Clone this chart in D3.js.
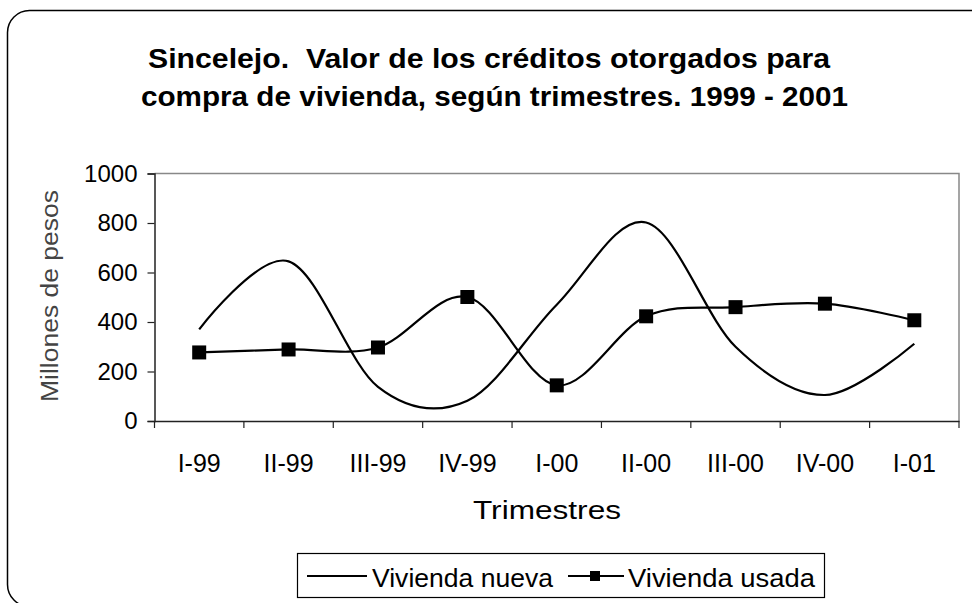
<!DOCTYPE html>
<html>
<head>
<meta charset="utf-8">
<script src="https://cdn.jsdelivr.net/npm/d3@7"></script>
<style>
  body { margin: 0; background: #fff; }
  text { font-family: "Liberation Sans", Arial, sans-serif; fill: #000; white-space: pre; }
</style>
</head>
<body>
<script>
  const trimestres = ['I-99', 'II-99', 'III-99', 'IV-99', 'I-00', 'II-00', 'III-00', 'IV-00', 'I-01'];
  const viviendaNueva = [370, 645, 138, 82, 470, 802, 300, 105, 312];
  const viviendaUsada = [277, 289, 297, 501, 144, 423, 460, 474, 407];
  const yTicks = [0, 200, 400, 600, 800, 1000];

  const width = 972;
  const height = 603;

  const svg = d3.select('body')
          .append('svg')
          .attr('width', width)
          .attr('height', height);

  // marco redondeado del gráfico
  svg.append('rect')
          .attr('x', 7.5)
          .attr('y', 10.5)
          .attr('width', 990)
          .attr('height', 596)
          .attr('rx', 22)
          .attr('fill', '#fff')
          .attr('stroke', '#000')
          .attr('stroke-width', 1.5);

  const plot = { left: 154.5, right: 959, top: 173.5, bottom: 421 };

  const x = d3.scaleBand()
          .domain(trimestres)
          .range([plot.left, plot.right]);

  const y = d3.scaleLinear()
          .domain([0, 1000])
          .range([plot.bottom, plot.top]);

  const cx = d => x(d) + x.bandwidth() / 2;

  // borde superior y derecho del área de trazado
  svg.append('path')
          .attr('d', `M${plot.left},${plot.top}H${plot.right}V${plot.bottom}`)
          .attr('fill', 'none')
          .attr('stroke', '#888')
          .attr('stroke-width', 1.5);

  // eje Y
  const yAxis = svg.append('g')
          .attr('transform', `translate(${plot.left},0)`)
          .call(d3.axisLeft(y).tickValues(yTicks).tickSize(7).tickPadding(10).tickFormat(d3.format('d')));
  yAxis.select('.domain').attr('stroke', '#222').attr('stroke-width', 1.5);
  yAxis.selectAll('.tick line').attr('stroke', '#222').attr('stroke-width', 1.2);
  yAxis.selectAll('.tick text')
          .style('font-family', '"Liberation Sans", Arial, sans-serif')
          .style('font-size', '24px')
          .attr('fill', '#000');

  // eje X con marcas en los límites de cada categoría
  const xAxis = svg.append('g')
          .attr('transform', `translate(0,${plot.bottom})`)
          .call(d3.axisBottom(x).tickSize(0).tickPadding(33));
  xAxis.select('.domain').attr('stroke', '#222').attr('stroke-width', 1.5);
  xAxis.selectAll('.tick text')
          .style('font-family', '"Liberation Sans", Arial, sans-serif')
          .style('font-size', '25px')
          .attr('fill', '#000');

  const bounds = trimestres.map(d => x(d)).concat([plot.right]);
  svg.append('g')
          .selectAll('line')
          .data(bounds)
          .enter()
          .append('line')
          .attr('x1', d => d)
          .attr('x2', d => d)
          .attr('y1', plot.bottom)
          .attr('y2', plot.bottom + 7)
          .attr('stroke', '#222')
          .attr('stroke-width', 1.2);

  // títulos (anchos tomados de la imagen)
  svg.append('text')
          .attr('x', 148)
          .attr('y', 68)
          .attr('textLength', 682)
          .attr('lengthAdjust', 'spacingAndGlyphs')
          .style('font-weight', 'bold')
          .style('font-size', '27px')
          .text('Sincelejo.  Valor de los créditos otorgados para');

  svg.append('text')
          .attr('x', 141)
          .attr('y', 106)
          .attr('textLength', 707)
          .attr('lengthAdjust', 'spacingAndGlyphs')
          .style('font-weight', 'bold')
          .style('font-size', '27px')
          .text('compra de vivienda, según trimestres. 1999 - 2001');

  svg.append('text')
          .attr('x', 473)
          .attr('y', 519)
          .attr('textLength', 148)
          .attr('lengthAdjust', 'spacingAndGlyphs')
          .style('font-size', '26px')
          .text('Trimestres');

  svg.append('text')
          .attr('transform', 'translate(58,402) rotate(-90)')
          .attr('textLength', 212)
          .attr('lengthAdjust', 'spacingAndGlyphs')
          .style('fill', '#444')
          .style('font-size', '23px')
          .text('Millones de pesos');

  // series
  const line = d3.line()
          .x((d, i) => cx(trimestres[i]))
          .y(d => y(d))
          .curve(d3.curveCardinal.tension(0));

  svg.append('path')
          .datum(viviendaNueva)
          .attr('d', line)
          .attr('fill', 'none')
          .attr('stroke', '#000')
          .attr('stroke-width', 2.2);

  svg.append('path')
          .datum(viviendaUsada)
          .attr('d', line)
          .attr('fill', 'none')
          .attr('stroke', '#000')
          .attr('stroke-width', 2.2);

  const m = 14;
  svg.append('g')
          .selectAll('rect')
          .data(viviendaUsada)
          .enter()
          .append('rect')
          .attr('x', (d, i) => cx(trimestres[i]) - m / 2)
          .attr('y', d => y(d) - m / 2)
          .attr('width', m)
          .attr('height', m)
          .attr('fill', '#000');

  // leyenda
  const legend = svg.append('g');
  legend.append('rect')
          .attr('x', 297.5)
          .attr('y', 553.5)
          .attr('width', 527)
          .attr('height', 44)
          .attr('fill', '#fff')
          .attr('stroke', '#000')
          .attr('stroke-width', 1.2);

  legend.append('line')
          .attr('x1', 307).attr('x2', 367)
          .attr('y1', 576).attr('y2', 576)
          .attr('stroke', '#000').attr('stroke-width', 2.2);
  legend.append('text')
          .attr('x', 372)
          .attr('y', 587)
          .attr('textLength', 181)
          .attr('lengthAdjust', 'spacingAndGlyphs')
          .style('font-size', '26px')
          .text('Vivienda nueva');

  legend.append('line')
          .attr('x1', 568).attr('x2', 624)
          .attr('y1', 576).attr('y2', 576)
          .attr('stroke', '#000').attr('stroke-width', 2.2);
  legend.append('rect')
          .attr('x', 590).attr('y', 571)
          .attr('width', 10).attr('height', 10)
          .attr('fill', '#000');
  legend.append('text')
          .attr('x', 628)
          .attr('y', 587)
          .attr('textLength', 187)
          .attr('lengthAdjust', 'spacingAndGlyphs')
          .style('font-size', '26px')
          .text('Vivienda usada');
</script>
</body>
</html>
